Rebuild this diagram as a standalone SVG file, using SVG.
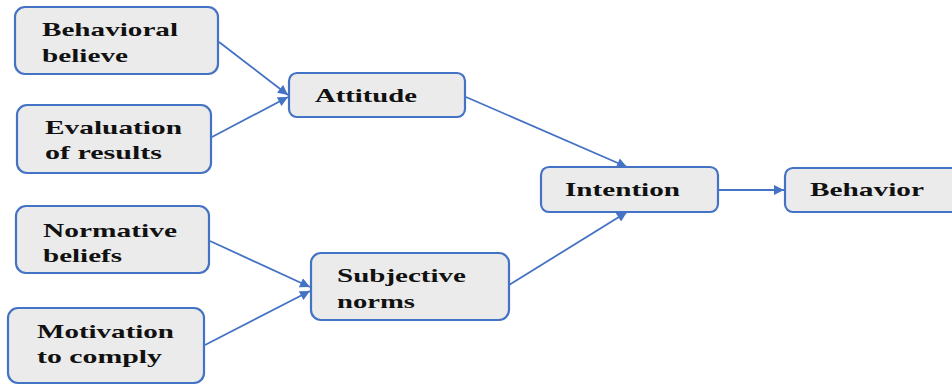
<svg xmlns="http://www.w3.org/2000/svg" width="952" height="385" viewBox="0 0 952 385">
<style>
.box{fill:#EBEBEB;stroke:#4472C4;stroke-width:2.2}
.t{font-family:"Liberation Serif","Times New Roman",serif;font-weight:bold;font-size:19px;fill:#111}
.c{stroke:#4472C4;stroke-width:1.8;fill:none;marker-end:url(#ah)}
</style>
<defs>
<marker id="ah" viewBox="0 0 10 10" refX="10" refY="5" markerWidth="11" markerHeight="10" markerUnits="userSpaceOnUse" orient="auto">
<path d="M0,0 L10,5 L0,10 z" fill="#4472C4"/>
</marker>
</defs>
<g id="connectors">
<line class="c" x1="219" y1="42" x2="288" y2="95"/>
<line class="c" x1="212" y1="137" x2="288" y2="97"/>
<line class="c" x1="466" y1="97" x2="627" y2="167"/>
<line class="c" x1="509" y1="285" x2="627" y2="212"/>
<line class="c" x1="210" y1="241" x2="310" y2="287"/>
<line class="c" x1="205" y1="345" x2="310" y2="291"/>
<line class="c" x1="719" y1="190" x2="784" y2="190"/>
</g>
<g id="n-behavioral-believe">
<rect class="box" x="15" y="7" width="203" height="67" rx="10"/>
<text class="t" x="42" y="36" textLength="136" lengthAdjust="spacingAndGlyphs">Behavioral</text>
<text class="t" x="42" y="62" textLength="86" lengthAdjust="spacingAndGlyphs">believe</text>
</g>
<g id="n-evaluation">
<rect class="box" x="17" y="105" width="194" height="68" rx="10"/>
<text class="t" x="45" y="134" textLength="137" lengthAdjust="spacingAndGlyphs">Evaluation</text>
<text class="t" x="45" y="159" textLength="117" lengthAdjust="spacingAndGlyphs">of results</text>
</g>
<g id="n-normative">
<rect class="box" x="16" y="206" width="193" height="67" rx="10"/>
<text class="t" x="43" y="237" textLength="134" lengthAdjust="spacingAndGlyphs">Normative</text>
<text class="t" x="43" y="262" textLength="79" lengthAdjust="spacingAndGlyphs">beliefs</text>
</g>
<g id="n-motivation">
<rect class="box" x="8" y="308" width="196" height="75" rx="10"/>
<text class="t" x="37" y="338" textLength="137" lengthAdjust="spacingAndGlyphs">Motivation</text>
<text class="t" x="37" y="363" textLength="125" lengthAdjust="spacingAndGlyphs">to comply</text>
</g>
<g id="n-attitude">
<rect class="box" x="289" y="73" width="176" height="44" rx="8"/>
<text class="t" x="315" y="102" textLength="102" lengthAdjust="spacingAndGlyphs">Attitude</text>
</g>
<g id="n-subjective">
<rect class="box" x="311" y="253" width="198" height="67" rx="10"/>
<text class="t" x="337" y="282" textLength="129" lengthAdjust="spacingAndGlyphs">Subjective</text>
<text class="t" x="337" y="308" textLength="78" lengthAdjust="spacingAndGlyphs">norms</text>
</g>
<g id="n-intention">
<rect class="box" x="541" y="167" width="177" height="45" rx="8"/>
<text class="t" x="565" y="196" textLength="115" lengthAdjust="spacingAndGlyphs">Intention</text>
</g>
<g id="n-behavior">
<rect class="box" x="785" y="168" width="180" height="44" rx="8"/>
<text class="t" x="810" y="196" textLength="114" lengthAdjust="spacingAndGlyphs">Behavior</text>
</g>
</svg>
